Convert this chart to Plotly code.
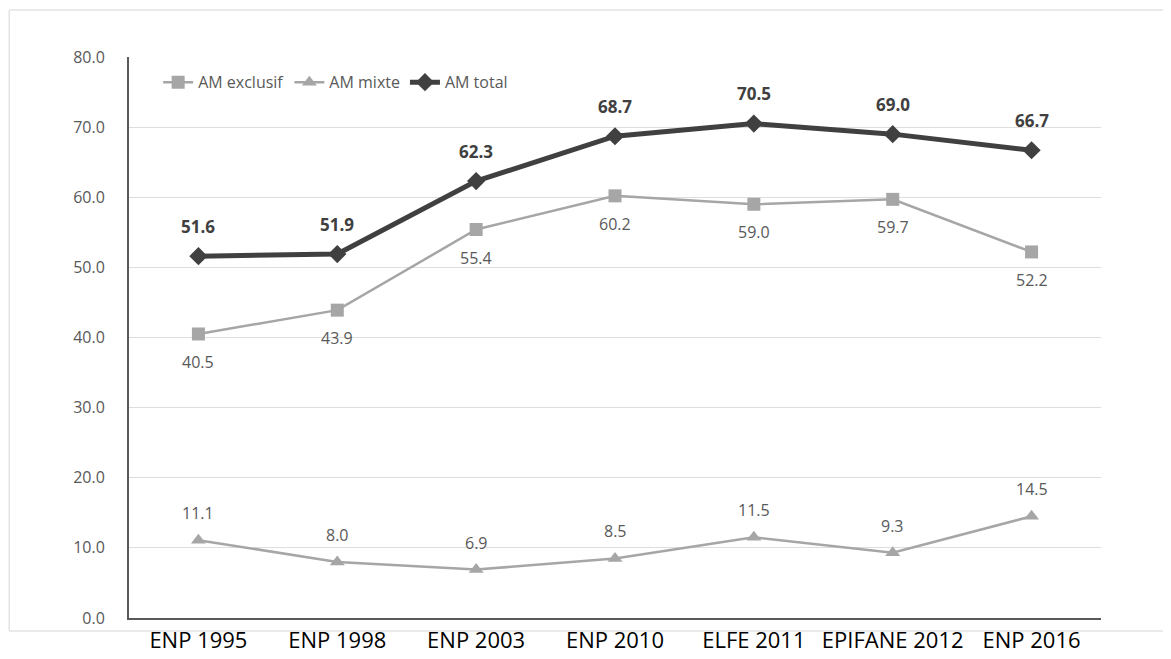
import plotly.graph_objects as go

categories = ["ENP 1995", "ENP 1998", "ENP 2003", "ENP 2010", "ELFE 2011", "EPIFANE 2012", "ENP 2016"]
am_exclusif = [40.5, 43.9, 55.4, 60.2, 59.0, 59.7, 52.2]
am_mixte = [11.1, 8.0, 6.9, 8.5, 11.5, 9.3, 14.5]
am_total = [51.6, 51.9, 62.3, 68.7, 70.5, 69.0, 66.7]
y_ticks = [0, 10, 20, 30, 40, 50, 60, 70, 80]

LIGHT = "#a6a6a6"
DARK = "#404040"
LABEL = "#595959"
FONT = "Open Sans"

fig = go.Figure()
fig.add_trace(go.Scatter(
    x=categories, y=am_exclusif, name="AM exclusif", mode="lines+markers",
    line=dict(color=LIGHT, width=2.5),
    marker=dict(symbol="square", size=13, color=LIGHT),
))
fig.add_trace(go.Scatter(
    x=categories, y=am_mixte, name="AM mixte", mode="lines+markers",
    line=dict(color=LIGHT, width=2.5),
    marker=dict(symbol="triangle-up", size=13, color=LIGHT),
))
fig.add_trace(go.Scatter(
    x=categories, y=am_total, name="AM total", mode="lines+markers",
    line=dict(color=DARK, width=5),
    marker=dict(symbol="diamond", size=14, color=DARK),
))

annotations = []
for c, v in zip(categories, am_total):
    annotations.append(dict(x=c, y=v, text=f"<b>{v:.1f}</b>", showarrow=False,
                            yshift=30, font=dict(family=FONT, size=17, color=DARK)))
for c, v in zip(categories, am_exclusif):
    annotations.append(dict(x=c, y=v, text=f"{v:.1f}", showarrow=False,
                            yshift=-28, font=dict(family=FONT, size=16, color=LABEL)))
for c, v in zip(categories, am_mixte):
    annotations.append(dict(x=c, y=v, text=f"{v:.1f}", showarrow=False,
                            yshift=27, font=dict(family=FONT, size=16, color=LABEL)))

frame_style = dict(color="#e3e3e3", width=1.5)
frame = [
    dict(type="line", xref="paper", yref="paper", x0=-0.1232, x1=1.2, y0=1.0838, y1=1.0838, line=frame_style, layer="below"),
    dict(type="line", xref="paper", yref="paper", x0=-0.1232, x1=-0.1232, y0=-0.0232, y1=1.0838, line=frame_style, layer="below"),
    dict(type="line", xref="paper", yref="paper", x0=-0.1232, x1=1.2, y0=-0.0232, y1=-0.0232, line=frame_style, layer="below"),
]

fig.update_layout(
    width=1163, height=651,
    margin=dict(l=121, r=70, t=49, b=41),
    paper_bgcolor="white", plot_bgcolor="white",
    font=dict(family=FONT, color=LABEL),
    showlegend=True,
    legend=dict(orientation="h", x=0.03, y=0.955, xanchor="left", yanchor="middle",
                font=dict(family=FONT, size=16, color=LABEL),
                bgcolor="rgba(0,0,0,0)", itemwidth=30, tracegroupgap=0),
    annotations=annotations,
    shapes=frame,
)
fig.update_xaxes(
    type="category", range=[-0.5, 6.5], automargin=False,
    showline=True, linecolor="#595959", linewidth=2,
    showgrid=False, ticks="",
    tickfont=dict(family=FONT, size=22, color="black"),
    ticklabelstandoff=2,
)
fig.update_yaxes(
    range=[0, 80], tickvals=y_ticks, tickformat=".1f", automargin=False,
    showline=True, linecolor="#595959", linewidth=2,
    showgrid=True, gridcolor="#dedede", gridwidth=1,
    ticks="", ticklabelstandoff=19,
    tickfont=dict(family=FONT, size=16, color=LABEL),
    zeroline=False,
)

fig.write_html("out.html")
